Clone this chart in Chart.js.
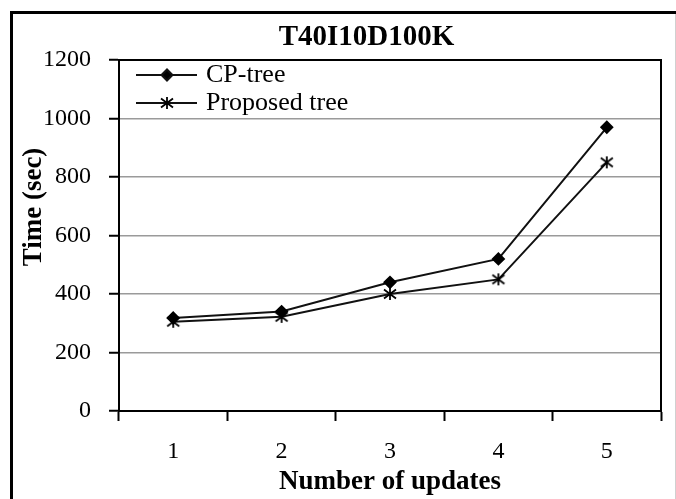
<!DOCTYPE html>
<html>
<head>
<meta charset="utf-8">
<script src="https://cdn.jsdelivr.net/npm/chart.js@4.4.1/dist/chart.umd.min.js"></script>
<style>
  html, body { margin: 0; padding: 0; background: #fff; }
  #wrap { width: 676px; height: 499px; position: relative; }
</style>
</head>
<body>
<div id="wrap"><canvas id="c" width="676" height="499"></canvas></div>
<script>
// Run time per number of updates for the T40I10D100K dataset
const categories = ['1', '2', '3', '4', '5'];
const cpTree = [318, 340, 440, 520, 970];
const proposedTree = [305, 322, 400, 450, 850];
const yTicks = [0, 200, 400, 600, 800, 1000, 1200];
const seriesNames = ['CP-tree', 'Proposed tree'];
const chartTitle = 'T40I10D100K';
const xTitle = 'Number of updates';
const yTitle = 'Time (sec)';

const SERIF = "'Liberation Serif', 'Times New Roman', serif";

// Asterisk marker: an X crossed by a vertical stroke
function asteriskMark(r) {
  const s = Math.ceil(r * 2 + 4);
  const c = document.createElement('canvas');
  c.width = s; c.height = s;
  const g = c.getContext('2d');
  const m = s / 2;
  g.strokeStyle = '#000';
  g.lineWidth = 1.8;
  g.beginPath();
  g.moveTo(m - r, m - r * 0.75); g.lineTo(m + r, m + r * 0.75);
  g.moveTo(m + r, m - r * 0.75); g.lineTo(m - r, m + r * 0.75);
  g.moveTo(m, m - r); g.lineTo(m, m + r);
  g.stroke();
  return c;
}
const starImg = asteriskMark(6);

// Frame, titles and the in-plot legend
const decorations = {
  id: 'decorations',
  afterDraw(chart) {
    const ctx = chart.ctx;
    const a = chart.chartArea;
    ctx.save();

    // outer chart border
    ctx.strokeStyle = '#000';
    ctx.lineWidth = 3;
    ctx.strokeRect(11.5, 12.5, 720, 600);
    ctx.strokeStyle = '#d0d0d0';
    ctx.lineWidth = 1;
    ctx.beginPath(); ctx.moveTo(675.5, 14); ctx.lineTo(675.5, 499); ctx.stroke();

    // top and right edges of the plot area
    ctx.strokeStyle = '#000';
    ctx.lineWidth = 2;
    ctx.beginPath();
    ctx.moveTo(a.left, a.top);
    ctx.lineTo(a.right, a.top);
    ctx.lineTo(a.right, a.bottom);
    ctx.stroke();

    // chart title
    ctx.fillStyle = '#000';
    ctx.font = 'bold 29px ' + SERIF;
    ctx.textAlign = 'center';
    ctx.textBaseline = 'middle';
    ctx.fillText(chartTitle, 366.5, 38);

    // y axis title
    ctx.save();
    ctx.translate(34, 207);
    ctx.rotate(-Math.PI / 2);
    ctx.font = 'bold 27px ' + SERIF;
    ctx.fillText(yTitle, 0, 0);
    ctx.restore();

    // legend
    const rows = [75, 103];
    chart.data.datasets.forEach((ds, i) => {
      const y = rows[i];
      ctx.strokeStyle = ds.borderColor;
      ctx.lineWidth = ds.borderWidth;
      ctx.beginPath(); ctx.moveTo(136, y); ctx.lineTo(197, y); ctx.stroke();
      Chart.helpers.drawPoint(ctx, {
        pointStyle: ds.pointStyle,
        radius: ds.pointRadius,
        borderWidth: 1,
        rotation: 0
      }, 167, y);
      ctx.fillStyle = '#000';
      ctx.font = '26px ' + SERIF;
      ctx.textAlign = 'left';
      ctx.textBaseline = 'middle';
      ctx.fillText(ds.label, 206, y);
    });
    ctx.restore();
  }
};

new Chart(document.getElementById('c'), {
  type: 'line',
  data: {
    labels: categories,
    datasets: [
      {
        label: seriesNames[0],
        data: cpTree,
        borderColor: '#111',
        backgroundColor: '#000',
        borderWidth: 2,
        pointStyle: 'rectRot',
        pointRadius: 5.5,
        pointBorderColor: '#000',
        pointBackgroundColor: '#000',
        tension: 0
      },
      {
        label: seriesNames[1],
        data: proposedTree,
        borderColor: '#111',
        backgroundColor: '#000',
        borderWidth: 2,
        pointStyle: starImg,
        pointRadius: 6,
        tension: 0
      }
    ]
  },
  options: {
    responsive: false,
    devicePixelRatio: 1,
    animation: false,
    layout: { padding: { left: 0, top: 60, right: 15, bottom: 0 } },
    plugins: {
      legend: { display: false },
      title: { display: false },
      tooltip: { enabled: false }
    },
    scales: {
      x: {
        type: 'category',
        offset: true,
        afterFit(scale) { scale.height = 88; },
        grid: {
          offset: true,
          drawOnChartArea: false,
          drawTicks: true,
          tickLength: 10,
          tickColor: '#000',
          tickWidth: 2
        },
        border: { display: true, color: '#000', width: 2 },
        ticks: {
          color: '#000',
          padding: 16,
          maxRotation: 0,
          font: { family: SERIF, size: 24 }
        },
        title: {
          display: true,
          text: xTitle,
          color: '#000',
          padding: { top: 0, bottom: 1 },
          font: { family: SERIF, size: 27, weight: 'bold' }
        }
      },
      y: {
        min: 0,
        max: 1200,
        afterFit(scale) { scale.width = 119; },
        afterBuildTicks(scale) { scale.ticks = yTicks.map(v => ({ value: v })); },
        grid: {
          color: '#9a9a9a',
          lineWidth: 1.5,
          drawTicks: true,
          tickLength: 10,
          tickColor: '#000',
          tickWidth: 2
        },
        border: { display: true, color: '#000', width: 2 },
        ticks: {
          color: '#000',
          padding: 18,
          callback: (v) => String(v),
          font: { family: SERIF, size: 24 }
        }
      }
    }
  },
  plugins: [decorations]
});
</script>
</body>
</html>
